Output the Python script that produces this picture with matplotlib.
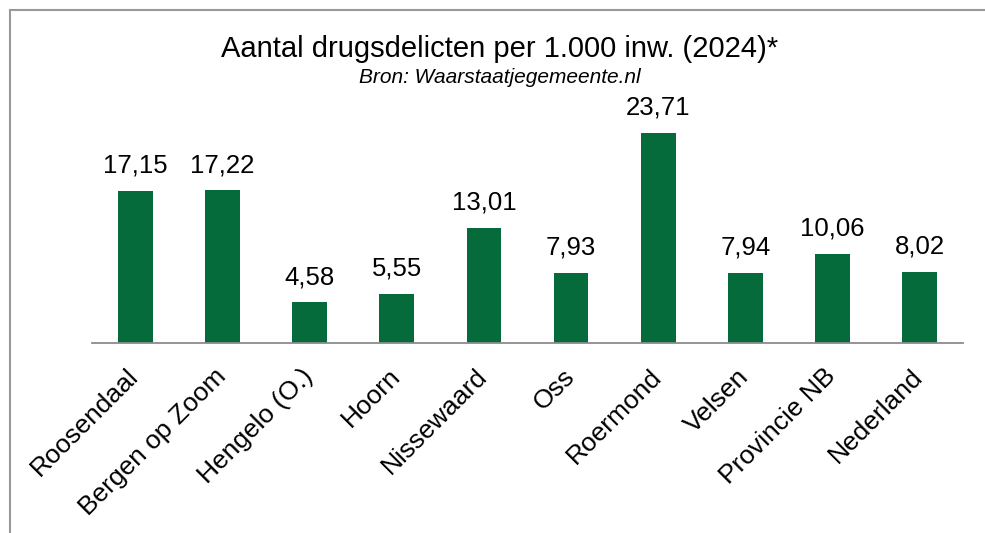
import matplotlib.pyplot as plt
from matplotlib.lines import Line2D
from matplotlib.transforms import ScaledTranslation

plt.rcParams['font.family'] = ['Liberation Sans', 'DejaVu Sans']

# data
gemeenten = ['Roosendaal', 'Bergen op Zoom', 'Hengelo (O.)', 'Hoorn', 'Nissewaard',
             'Oss', 'Roermond', 'Velsen', 'Provincie NB', 'Nederland']
delicten = [17.15, 17.22, 4.58, 5.55, 13.01, 7.93, 23.71, 7.94, 10.06, 8.02]

groen = '#066b3a'

fig = plt.figure(figsize=(9.85, 5.33), dpi=100)
ax = fig.add_axes([92 / 985, 190 / 533, 871 / 985, 221.5 / 533])

x = range(len(gemeenten))
ax.bar(x, delicten, width=0.4, color=groen)

# waarden boven de staven
for xi, v in zip(x, delicten):
    ax.text(xi, v + 1.5, f'{v:.2f}'.replace('.', ','), ha='center', va='bottom', fontsize=18.5)

ax.set_xlim(-0.5, len(gemeenten) - 0.5)
ax.set_ylim(0, 25)
ax.set_yticks([])
for s in ['top', 'right', 'left']:
    ax.spines[s].set_visible(False)
ax.spines['bottom'].set_color('#8c8c8c')
ax.spines['bottom'].set_linewidth(1.3)

ax.set_xticks(list(x))
ax.set_xticklabels(gemeenten, rotation=45, ha='right', va='top',
                   rotation_mode='anchor', fontsize=19)
ax.tick_params(axis='x', length=0, pad=8)
verschuif = ScaledTranslation(-0.09, -0.10, fig.dpi_scale_trans)
for lbl in ax.get_xticklabels():
    lbl.set_transform(lbl.get_transform() + verschuif)

# titel
fig.text(500 / 985, 1 - 57 / 533, 'Aantal drugsdelicten per 1.000 inw. (2024)*',
         ha='center', va='baseline', fontsize=21)
fig.text(500 / 985, 1 - 83 / 533, 'Bron: Waarstaatjegemeente.nl',
         ha='center', va='baseline', fontsize=15, style='italic')

# rand links en boven
fig.add_artist(Line2D([10 / 985, 10 / 985], [0, 1 - 10 / 533], color='#999999', lw=1.5))
fig.add_artist(Line2D([10 / 985, 1], [1 - 10 / 533, 1 - 10 / 533], color='#999999', lw=1.5))

fig.savefig('out.png', dpi=100)
